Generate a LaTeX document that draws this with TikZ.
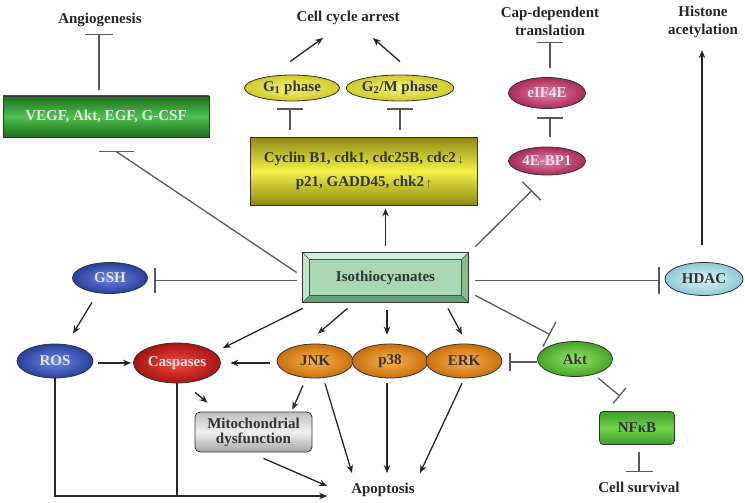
\documentclass[tikz,border=0pt]{standalone}
\usepackage{fontspec}
\setmainfont{Liberation Serif}
\usetikzlibrary{shapes.geometric,arrows.meta,calc,backgrounds}
\definecolor{vgtop}{HTML}{1F6E1F}
\definecolor{vgmid}{HTML}{4FC04F}
\definecolor{ytop}{HTML}{8E8A10}
\definecolor{ymid}{HTML}{F4F048}
\definecolor{yin}{HTML}{F6F27A}
\definecolor{yout}{HTML}{CFCB2C}
\definecolor{bin}{HTML}{6A8AE0}
\definecolor{bout}{HTML}{2A3E9E}
\definecolor{rin}{HTML}{F24A3E}
\definecolor{rout}{HTML}{A81412}
\definecolor{oin}{HTML}{F8B24A}
\definecolor{oout}{HTML}{C8700E}
\definecolor{gin}{HTML}{96E66A}
\definecolor{gout}{HTML}{45A326}
\definecolor{hin}{HTML}{E0F5F8}
\definecolor{hout}{HTML}{8CCAD6}
\definecolor{pin}{HTML}{E683A8}
\definecolor{pout}{HTML}{A82A5A}
\definecolor{nftop}{HTML}{3E9E28}
\definecolor{nfmid}{HTML}{72D24E}
\definecolor{isoface}{HTML}{A9D9B3}
\definecolor{isotop}{HTML}{D4EEDA}
\definecolor{isoleft}{HTML}{C0E4C8}
\definecolor{isoright}{HTML}{86BE92}
\definecolor{isobot}{HTML}{6A9E76}
\begin{document}
\begin{tikzpicture}[x=1pt,y=-1pt,
  lbl/.style={font=\fontsize{15}{18}\selectfont\bfseries, text=black!85, align=center, inner sep=1pt},
  ell/.style={ellipse, draw=black!80, line width=0.8pt, inner sep=0pt, font=\fontsize{15}{18}\selectfont\bfseries},
  box/.style={rectangle, draw=black!80, line width=0.8pt, inner sep=0pt, align=center, font=\fontsize{15}{18}\selectfont\bfseries},
  lighttext/.style={text=white!90!black},
  darktext/.style={text=black!80},
  arr/.style={draw=black!85, line width=1.3pt, -{Stealth[length=8pt,width=6.5pt]}},
  plain/.style={draw=black!85, line width=1.3pt},
  inh/.style={draw=black!65, line width=1.3pt, -{Bar[width=#1,line width=1.3pt]}},
  inh/.default=26pt,
  barline/.style={draw=black!65, line width=1.3pt}
]
\useasboundingbox (0,0) rectangle (745,503);

% text labels
\node[lbl] (angio) at (100,20) {Angiogenesis};
\node[lbl] (cca) at (348,18) {Cell cycle arrest};
\node[lbl] (cap) at (550,21) {Cap-dependent\\translation};
\node[lbl] (hist) at (703,22) {Histone\\acetylation};
\node[lbl] (apop) at (383,490) {Apoptosis};
\node[lbl] (surv) at (639,487) {Cell survival};

% boxes
\node[box, lighttext, minimum width=206, minimum height=41, top color=vgtop, bottom color=vgtop, middle color=vgmid] (vegf) at (106,116.5) {VEGF, Akt, EGF, G-CSF};
\node[box, darktext, minimum width=227, minimum height=68, top color=ytop, bottom color=ytop, middle color=ymid] (cyc) at (363.5,171) {Cyclin B1, cdk1, cdc25B, cdc2\,{\small$\downarrow$}\\[6pt]p21, GADD45, chk2\,{\small$\uparrow$}};
\node[box, darktext, minimum width=165, minimum height=49, draw=none] (iso) at (385.5,277.5) {Isothiocyanates};
\node[box, darktext, rounded corners=5pt, minimum width=117, minimum height=40, top color=gray!50, bottom color=gray!70, middle color=gray!12] (mito) at (253.5,432) {Mitochondrial\\[-3pt]dysfunction};
\node[box, darktext, rounded corners=4pt, minimum width=75, minimum height=33, top color=nftop, bottom color=nftop, middle color=nfmid] (nfkb) at (637,428) {NFκB};

% ellipses
\node[ell, darktext, minimum width=95, minimum height=26, inner color=yin, outer color=yout] (g1) at (292,88) {G\textsubscript{1} phase};
\node[ell, darktext, minimum width=96, minimum height=26, inner color=yin, outer color=yout] (g2) at (400,88) {G\textsubscript{2}/M phase};
\node[ell, lighttext, minimum width=77, minimum height=31, inner color=pin, outer color=pout] (eif) at (547,93) {eIF4E};
\node[ell, lighttext, minimum width=77, minimum height=28, inner color=pin, outer color=pout] (bp1) at (547,161) {4E-BP1};
\node[ell, darktext, minimum width=78, minimum height=33, inner color=hin, outer color=hout] (hdac) at (704,279) {HDAC};
\node[ell, lighttext, minimum width=75, minimum height=31, inner color=bin, outer color=bout] (gsh) at (110,278) {GSH};
\node[ell, lighttext, minimum width=76, minimum height=34, inner color=bin, outer color=bout] (ros) at (55,361) {ROS};
\node[ell, lighttext, minimum width=87, minimum height=40, inner color=rin, outer color=rout] (casp) at (177,363) {Caspases};
\node[ell, darktext, minimum width=76, minimum height=34, inner color=oin, outer color=oout] (jnk) at (315,361) {JNK};
\node[ell, darktext, minimum width=76, minimum height=34, inner color=oin, outer color=oout] (p38) at (390,361) {p38};
\node[ell, darktext, minimum width=76, minimum height=34, inner color=oin, outer color=oout] (erk) at (464,361) {ERK};
\node[ell, darktext, minimum width=75, minimum height=35, inner color=gin, outer color=gout] (akt) at (575,359) {Akt};

% bevel of isothiocyanates box
\begin{scope}[on background layer]
  \coordinate (inw) at ($(iso.north west)+(7,7)$);
  \coordinate (ine) at ($(iso.north east)+(-7,7)$);
  \coordinate (ise) at ($(iso.south east)+(-7,-7)$);
  \coordinate (isw) at ($(iso.south west)+(7,-7)$);
  \fill[isotop] (iso.north west) -- (iso.north east) -- (ine) -- (inw) -- cycle;
  \fill[isoright] (iso.north east) -- (iso.south east) -- (ise) -- (ine) -- cycle;
  \fill[isobot] (iso.south east) -- (iso.south west) -- (isw) -- (ise) -- cycle;
  \fill[isoleft] (iso.south west) -- (iso.north west) -- (inw) -- (isw) -- cycle;
  \fill[isoface] (inw) rectangle (ise);
  \draw[black!70, line width=0.5pt] (iso.north west) -- (inw) (iso.north east) -- (ine) (iso.south east) -- (ise) (iso.south west) -- (isw);
  \draw[black!70, line width=0.5pt] (inw) rectangle (ise);
  \draw[black!80, line width=0.9pt] (iso.north west) rectangle (iso.south east);
\end{scope}

% top-left
\draw[inh=28pt] ($(vegf.north)+(-7,-6)$) -- ($(vegf.north)+(-7,-62)$);
\coordinate (vbar) at ($(vegf.south)+(10,14)$);
\draw[barline] ($(iso.west)+(-6,-5)$) -- (vbar);
\draw[barline] ($(vbar)+(-17,0)$) -- ($(vbar)+(18,0)$);

% cell cycle
\draw[arr] ($(g1.north)+(-2,-13)$) -- ($(cca.south)+(-25,12)$);
\draw[arr] ($(g2.north)+(0,-13)$) -- ($(cca.south)+(25,12)$);
\draw[inh] ($(cyc.north -| g1)+(-2,-7)$) -- ($(g1.south)+(-2,7)$);
\draw[inh] ($(cyc.north -| g2)+(0,-7)$) -- ($(g2.south)+(0,7)$);
\draw[arr] ($(iso.north)+(0,-7)$) -- ($(iso.north |- cyc.south)+(0,3)$);

% cap-dependent translation
\draw[inh] ($(bp1.north)+(3,-10)$) -- ($(eif.south)+(3,8.5)$);
\draw[inh] ($(eif.north)+(3,-9.5)$) -- ($(eif.north)+(3,-35)$);
\draw[inh] ($(iso.north east)+(7,-6)$) -- ($(bp1.south)+(-15,15)$);

% HDAC
\draw[inh=27pt] ($(iso.east)+(7,3)$) -- ($(iso.east -| hdac.west)+(-5,3)$);
\draw[arr] ($(hdac.north)+(-2,-17)$) -- ($(hdac.north)+(-2,-212)$);

% GSH, ROS
\draw[inh=25pt] ($(iso.west)+(-6,3)$) -- ($(iso.west -| gsh.east)+(6.5,3)$);
\draw[arr] ($(gsh.south)+(-18,8.5)$) -- ($(ros.north)+(18,-10)$);
\draw[arr] ($(ros.east)+(5,2)$) -- ($(casp.west)+(-2,0)$);

% caspases and MAPK
\draw[arr] ($(iso.south west)+(0,6)$) -- ($(casp.center)+(46,-15)$);
\draw[arr] ($(jnk.west |- casp)+(-7,0)$) -- ($(casp.east)+(9.5,0)$);
\draw[arr] ($(iso.south)+(-38,6)$) -- ($(jnk.north)+(3,-10)$);
\draw[arr] ($(iso.south)+(1.5,8)$) -- ($(iso.south |- p38.north)+(1.5,-9)$);
\draw[arr] ($(iso.south)+(62.5,6)$) -- ($(erk.north)+(-2,-9)$);

% Akt
\draw[inh=28pt] ($(iso.south east)+(7,-7)$) -- ($(akt.north)+(-25,-6.5)$);
\draw[inh=18pt] ($(akt.west)+(0,3)$) -- ($(akt.west -| erk.east)+(7,3)$);
\draw[inh=20pt] ($(akt.south)+(23,1)$) -- ($(nfkb.north)+(-17,-15)$);
\draw[inh=27pt] ($(nfkb.south)+(2,7.5)$) -- ($(nfkb.south)+(2,27.5)$);

% mitochondria and apoptosis
\draw[arr] ($(casp.south)+(18,9)$) -- ($(mito.north west)+(13,-9)$);
\draw[arr] ($(jnk.south)+(-12,7)$) -- ($(mito.north east)+(-20,-2)$);
\draw[arr] ($(mito.south)+(10,6)$) -- ($(apop.west)+(-23,-4)$);
\draw[arr] ($(jnk.south)+(10,5)$) -- ($(apop.north)+(-31,-9)$);
\draw[arr] ($(p38.south)+(-3,5)$) -- ($(apop.north)+(4,-9)$);
\draw[arr] ($(erk.south)+(-2,5)$) -- ($(apop.north)+(37,-9)$);
\coordinate (apin) at ($(apop.west)+(-23,6)$);
\draw[arr] (ros.south) |- (apin);
\draw[plain] (casp.south) -- (casp.south |- apin);
\end{tikzpicture}
\end{document}
